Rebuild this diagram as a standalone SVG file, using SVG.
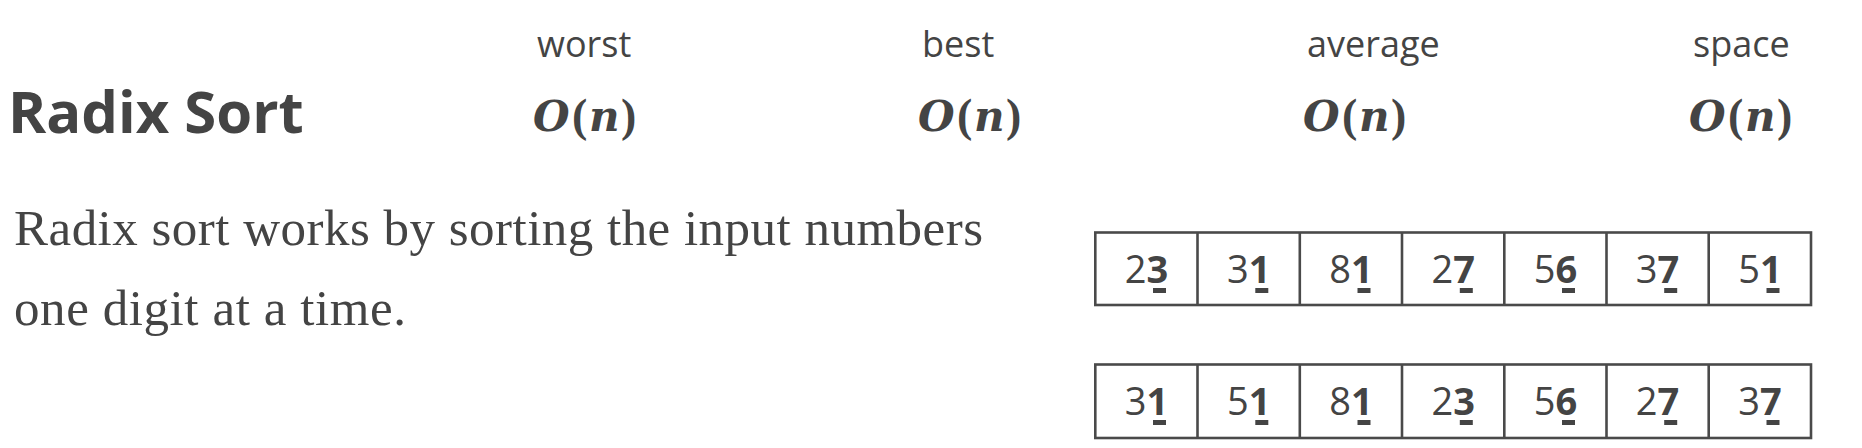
<svg xmlns="http://www.w3.org/2000/svg" width="1862" height="448" viewBox="0 0 1862 448">
<style>
.bg{fill:#ffffff}
.title{font-family:"Open Sans","Liberation Sans",sans-serif;font-weight:700;font-size:58px;fill:#444444}
.hdr{font-family:"Open Sans","Liberation Sans",sans-serif;font-weight:400;font-size:36px;fill:#444444}
.big{font-family:"DejaVu Serif","Liberation Serif",serif;font-weight:700;font-style:italic;font-size:42px;fill:#444444}
.par{font-family:"Liberation Serif","DejaVu Serif",serif;font-weight:700;font-style:normal;font-size:46px;fill:#444444}
.body{font-family:"Liberation Serif","DejaVu Serif",serif;font-size:51px;fill:#444444}
.cell{fill:#ffffff;stroke:#4a4a4a;stroke-width:2.6}
.div{stroke:#4a4a4a;stroke-width:2.6}
.num{font-family:"Open Sans","Liberation Sans",sans-serif;font-size:38px;fill:#444444;text-anchor:middle}
.num tspan{font-weight:700}
.bar{fill:#444444}
</style>
<rect class="bg" x="0" y="0" width="1862" height="448"/>
<g id="title"><text class="title" x="8" y="133">Radix Sort</text></g>
<g id="complexity">
<g id="worst"><text class="hdr" x="537" y="57">worst</text>
<text class="big" y="131"><tspan x="533">O</tspan><tspan class="par" x="572">(</tspan><tspan x="589">n</tspan><tspan class="par" x="621">)</tspan></text></g>
<g id="best"><text class="hdr" x="922" y="57">best</text>
<text class="big" y="131"><tspan x="918">O</tspan><tspan class="par" x="957">(</tspan><tspan x="974">n</tspan><tspan class="par" x="1006">)</tspan></text></g>
<g id="average"><text class="hdr" x="1307" y="57">average</text>
<text class="big" y="131"><tspan x="1303">O</tspan><tspan class="par" x="1342">(</tspan><tspan x="1359">n</tspan><tspan class="par" x="1391">)</tspan></text></g>
<g id="space"><text class="hdr" x="1693" y="57">space</text>
<text class="big" y="131"><tspan x="1689">O</tspan><tspan class="par" x="1728">(</tspan><tspan x="1745">n</tspan><tspan class="par" x="1777">)</tspan></text></g>
</g>
<g id="description">
<text class="body" x="14" y="245" textLength="969" lengthAdjust="spacing">Radix sort works by sorting the input numbers</text>
<text class="body" x="14" y="325" textLength="392" lengthAdjust="spacing">one digit at a time.</text>
</g>
<g id="row1">
<rect class="cell" x="1095.3" y="232.5" width="715.7" height="72.5"/>
<line class="div" x1="1197.5" y1="232.5" x2="1197.5" y2="305"/>
<line class="div" x1="1299.8" y1="232.5" x2="1299.8" y2="305"/>
<line class="div" x1="1402" y1="232.5" x2="1402" y2="305"/>
<line class="div" x1="1504.3" y1="232.5" x2="1504.3" y2="305"/>
<line class="div" x1="1606.5" y1="232.5" x2="1606.5" y2="305"/>
<line class="div" x1="1708.7" y1="232.5" x2="1708.7" y2="305"/>
<text class="num" x="1146.4" y="283">2<tspan>3</tspan></text>
<text class="num" x="1248.7" y="283">3<tspan>1</tspan></text>
<text class="num" x="1350.9" y="283">8<tspan>1</tspan></text>
<text class="num" x="1453.2" y="283">2<tspan>7</tspan></text>
<text class="num" x="1555.4" y="283">5<tspan>6</tspan></text>
<text class="num" x="1657.6" y="283">3<tspan>7</tspan></text>
<text class="num" x="1759.9" y="283">5<tspan>1</tspan></text>
<rect class="bar" x="1153" y="288" width="13" height="5"/>
<rect class="bar" x="1255.3" y="288" width="13" height="5"/>
<rect class="bar" x="1357.5" y="288" width="13" height="5"/>
<rect class="bar" x="1459.8" y="288" width="13" height="5"/>
<rect class="bar" x="1562" y="288" width="13" height="5"/>
<rect class="bar" x="1664.2" y="288" width="13" height="5"/>
<rect class="bar" x="1766.5" y="288" width="13" height="5"/>
</g>
<g id="row2">
<rect class="cell" x="1095.3" y="364.5" width="715.7" height="73.5"/>
<line class="div" x1="1197.5" y1="364.5" x2="1197.5" y2="438"/>
<line class="div" x1="1299.8" y1="364.5" x2="1299.8" y2="438"/>
<line class="div" x1="1402" y1="364.5" x2="1402" y2="438"/>
<line class="div" x1="1504.3" y1="364.5" x2="1504.3" y2="438"/>
<line class="div" x1="1606.5" y1="364.5" x2="1606.5" y2="438"/>
<line class="div" x1="1708.7" y1="364.5" x2="1708.7" y2="438"/>
<text class="num" x="1146.4" y="415">3<tspan>1</tspan></text>
<text class="num" x="1248.7" y="415">5<tspan>1</tspan></text>
<text class="num" x="1350.9" y="415">8<tspan>1</tspan></text>
<text class="num" x="1453.2" y="415">2<tspan>3</tspan></text>
<text class="num" x="1555.4" y="415">5<tspan>6</tspan></text>
<text class="num" x="1657.6" y="415">2<tspan>7</tspan></text>
<text class="num" x="1759.9" y="415">3<tspan>7</tspan></text>
<rect class="bar" x="1153" y="420" width="13" height="5"/>
<rect class="bar" x="1255.3" y="420" width="13" height="5"/>
<rect class="bar" x="1357.5" y="420" width="13" height="5"/>
<rect class="bar" x="1459.8" y="420" width="13" height="5"/>
<rect class="bar" x="1562" y="420" width="13" height="5"/>
<rect class="bar" x="1664.2" y="420" width="13" height="5"/>
<rect class="bar" x="1766.5" y="420" width="13" height="5"/>
</g>
</svg>
